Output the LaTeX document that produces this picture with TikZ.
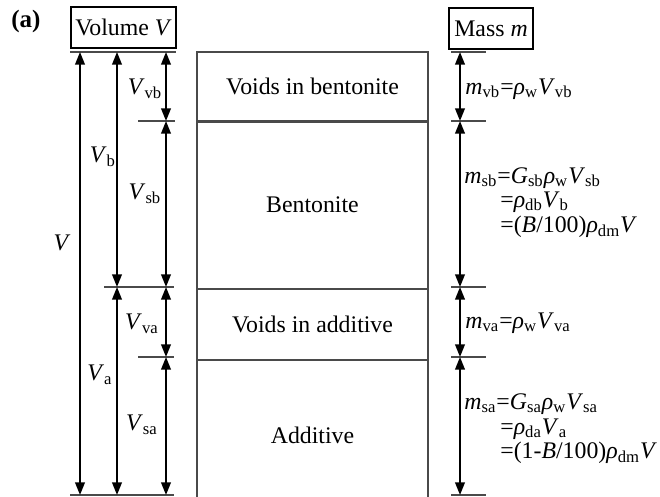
\documentclass[tikz,border=0pt]{standalone}
\usepackage{fontspec}
\setmainfont{Liberation Serif}
\usepackage{tikz}
\usetikzlibrary{positioning}
\usetikzlibrary{arrows.meta}
\definecolor{linegray}{HTML}{4A4A4A}
\tikzset{x=0.5pt, y=-0.5pt,
every node/.style={ % Text size of all labels
font=\fontsize{11.9}{14.2}\selectfont},
headbox/.style={ % Boxes above the columns
draw, semithick, inner sep=2pt, minimum height=20.5pt},
phase/.style={ % Cells of the soil column
draw=linegray, semithick, minimum width=115.5pt, inner sep=0pt},
tick/.style={ % Level marks
draw=linegray, semithick},
dim/.style={ % Dimension arrows
draw, line width=1pt,
{Triangle[length=6.3pt,width=4.8pt]}-{Triangle[length=6.3pt,width=4.8pt]}}}
\newcommand{\lo}[1]{\textsubscript{#1}}

\begin{document}
\begin{tikzpicture}
\useasboundingbox (0,0) rectangle (660,497);
% headings
\node[font=\fontsize{12.5}{15}\selectfont\bfseries] (tag) at (26,21) {(a)};
\node[headbox, minimum width=52.5pt] (vol) at (123.5,27.5) {Volume \textit{V}};
\node[headbox, minimum width=42pt] (mass) at (491,28.5) {Mass \textit{m}};
% soil column
\node[phase, minimum height=34.5pt] (vb) at (312.5,86.5) {Voids in bentonite};
\node[phase, minimum height=83pt, below=0pt of vb] (sb) {Bentonite};
\node[phase, minimum height=35pt, below=0pt of sb] (va) {Voids in additive};
\node[phase, minimum height=68.7pt, text height=14.5pt, text depth=0pt, below=0pt of va] (sa) {Additive};
% levels
\coordinate (a0) at (80,52);
\coordinate (a4) at (80,495);
\coordinate (b0) at (117,52);
\coordinate (b2) at (117,287);
\coordinate (b4) at (117,495);
\coordinate (c0) at (166,52);
\coordinate (c1) at (166,121);
\coordinate (c2) at (166,287);
\coordinate (c3) at (166,357);
\coordinate (c4) at (166,495);
\coordinate (m0) at (460,52);
\coordinate (m1) at (460,121);
\coordinate (m2) at (460,287);
\coordinate (m3) at (460,357);
\coordinate (m4) at (460,495);
\draw[tick] (a0) ++(-10,0) -- ++(106,0);
\draw[tick] (c1) ++(-28,0) -- ++(37,0);
\draw[tick] (b2) ++(-13,0) -- ++(70,0);
\draw[tick] (c3) ++(-28,0) -- ++(36,0);
\draw[tick] (a4) ++(-10,0) -- ++(104,0);
\draw[tick] (m0) ++(-9,0) -- ++(35,0);
\draw[tick] (m1) ++(-9,0) -- ++(35,0);
\draw[tick] (m2) ++(-9,0) -- ++(35,0);
\draw[tick] (m3) ++(-9,0) -- ++(35,0);
\draw[tick] (m4) ++(-9,0) -- ++(35,0);
% volume arrows
\draw (a0) edge[dim] (a4) ;
\draw (b0) edge[dim] (b2) ;
\draw (b2) edge[dim] (b4) ;
\draw (c0) edge[dim] (c1) ;
\draw (c1) edge[dim] (c2) ;
\draw (c2) edge[dim] (c3) ;
\draw (c3) edge[dim] (c4) ;
\node (lV) at (62,243) {\textit{V}};
\node (lVb) at (103,157) {\textit{V}\lo{b}};
\node (lVa) at (100,375) {\textit{V}\lo{a}};
\node (lVvb) at (145,89) {\textit{V}\lo{vb}};
\node (lVsb) at (145,194) {\textit{V}\lo{sb}};
\node (lVva) at (142,324) {\textit{V}\lo{va}};
\node (lVsa) at (142,425) {\textit{V}\lo{sa}};
% mass arrows
\draw (m0) edge[dim] (m1) ;
\draw (m1) edge[dim] (m2) ;
\draw (m2) edge[dim] (m3) ;
\draw (m3) edge[dim] (m4) ;
\node[anchor=west, inner sep=0pt] (mvb) at (465,89) {\textit{m}\lo{vb}=\textit{ρ}\lo{w}\textit{V}\lo{vb}};
\node[anchor=west, inner sep=0pt] (msb1) at (464,178) {\textit{m}\lo{sb}=\textit{G}\lo{sb}\textit{ρ}\lo{w}\textit{V}\lo{sb}};
\node[anchor=west, inner sep=0pt] (msb2) at (500,202) {=\textit{ρ}\lo{db}\textit{V}\lo{b}};
\node[anchor=west, inner sep=0pt] (msb3) at (500,227) {=(\textit{B}/100)\textit{ρ}\lo{dm}\textit{V}};
\node[anchor=west, inner sep=0pt] (mva) at (465,323) {\textit{m}\lo{va}=\textit{ρ}\lo{w}\textit{V}\lo{va}};
\node[anchor=west, inner sep=0pt] (msa1) at (464,404) {\textit{m}\lo{sa}=\textit{G}\lo{sa}\textit{ρ}\lo{w}\textit{V}\lo{sa}};
\node[anchor=west, inner sep=0pt] (msa2) at (500,429) {=\textit{ρ}\lo{da}\textit{V}\lo{a}};
\node[anchor=west, inner sep=0pt] (msa3) at (500,453) {=(1-\textit{B}/100)\textit{ρ}\lo{dm}\textit{V}};
\end{tikzpicture}
\end{document}
